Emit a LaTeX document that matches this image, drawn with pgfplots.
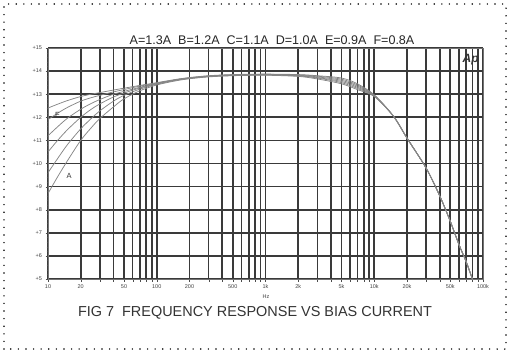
\documentclass[border=0pt]{standalone}
\usepackage{pgfplots}
\pgfplotsset{compat=1.18}
\usepackage{fontspec}
\setmainfont{Liberation Sans}
\definecolor{gridc}{HTML}{3A3A3A}
\definecolor{curvec}{HTML}{868686}
\begin{document}
\begin{tikzpicture}[x=1bp,y=1bp]
\path[use as bounding box] (0,0) rectangle (510,353);
\draw[black, line width=1.6bp, line cap=round, dash pattern=on 0bp off 7.6bp] (4,4) rectangle (506,349);
\begin{axis}[
  at={(48bp,74bp)}, anchor=south west,
  width=435bp, height=231bp, scale only axis,
  xmode=log, xmin=10, xmax=100000, ymin=5, ymax=15,
  log basis x=10,
  xtick={10,20,30,40,50,60,70,80,90,100,200,300,400,500,600,700,800,900,1000,2000,3000,4000,5000,6000,7000,8000,9000,10000,20000,30000,40000,50000,60000,70000,80000,90000,100000},
  xticklabels={10,20,,,50,,,,,100,200,,,500,,,,,1k,2k,,,5k,,,,,10k,20k,,,50k,,,,,100k},
  minor xtick={},
  ytick={5,6,...,15},
  yticklabels={+5,+6,+7,+8,+9,+10,+11,+12,+13,+14,+15},
  minor y tick num=4,
  xmajorgrids, ymajorgrids,
  major grid style={gridc, line width=1.7bp},
  axis line style={black!55, line width=0.8bp},
  tick align=outside,
  major tick length=2.5bp, minor tick length=1.5bp,
  major tick style={black!70},
  minor tick style={black!70},
  xtick pos=bottom, ytick pos=left,
  ticklabel style={font=\fontsize{5.5}{6}\selectfont, text=black!75},
  /pgf/number format/assume math mode=true,
  clip=true,
]
% F = 0.8A
\addplot[curvec, line width=0.75bp, smooth] coordinates {
(10,12.4)(12,12.55)(15,12.72)(20,12.9)(25,13.0)(30,13.07)(40,13.18)(50,13.26)(70,13.38)(100,13.5)
(150,13.64)(200,13.72)(300,13.8)(500,13.85)(1000,13.87)(2000,13.85)(3000,13.8)(5000,13.7)(7000,13.45)
(10000,12.97)(15000,12.05)(20000,11.1)(30000,9.8)(40000,8.6)(50000,7.5)(60000,6.5)(70000,5.75)(80000,5.0)(100000,3.8)};
% E
\addplot[curvec, line width=0.75bp, smooth] coordinates {
(10,11.9)(12,12.15)(15,12.42)(20,12.7)(25,12.85)(30,12.95)(40,13.1)(50,13.2)(70,13.35)(100,13.48)
(150,13.63)(200,13.71)(300,13.79)(500,13.84)(1000,13.86)(2000,13.84)(3000,13.78)(5000,13.65)(7000,13.4)
(10000,12.96)(15000,12.05)(20000,11.1)(30000,9.8)(40000,8.6)(50000,7.5)(60000,6.5)(70000,5.75)(80000,5.0)(100000,3.8)};
% D
\addplot[curvec, line width=0.75bp, smooth] coordinates {
(10,11.2)(12,11.55)(15,11.95)(20,12.35)(25,12.6)(30,12.77)(40,13.0)(50,13.12)(70,13.3)(100,13.46)
(150,13.62)(200,13.7)(300,13.78)(500,13.83)(1000,13.85)(2000,13.82)(3000,13.75)(5000,13.6)(7000,13.35)
(10000,12.95)(15000,12.05)(20000,11.1)(30000,9.8)(40000,8.6)(50000,7.5)(60000,6.5)(70000,5.75)(80000,5.0)(100000,3.8)};
% C
\addplot[curvec, line width=0.75bp, smooth] coordinates {
(10,10.5)(12,10.95)(15,11.45)(20,12.0)(25,12.35)(30,12.58)(40,12.88)(50,13.05)(70,13.27)(100,13.45)
(150,13.61)(200,13.69)(300,13.77)(500,13.82)(1000,13.84)(2000,13.8)(3000,13.72)(5000,13.55)(7000,13.3)
(10000,12.93)(15000,12.05)(20000,11.1)(30000,9.8)(40000,8.6)(50000,7.5)(60000,6.5)(70000,5.75)(80000,5.0)(100000,3.8)};
% B
\addplot[curvec, line width=0.75bp, smooth] coordinates {
(10,9.6)(12,10.15)(15,10.8)(20,11.5)(25,11.95)(30,12.28)(40,12.7)(50,12.95)(70,13.22)(100,13.43)
(150,13.6)(200,13.68)(300,13.76)(500,13.81)(1000,13.83)(2000,13.79)(3000,13.7)(5000,13.5)(7000,13.25)
(10000,12.92)(15000,12.05)(20000,11.1)(30000,9.8)(40000,8.6)(50000,7.5)(60000,6.5)(70000,5.75)(80000,5.0)(100000,3.8)};
% A = 1.3A
\addplot[curvec, line width=0.75bp, smooth] coordinates {
(10,8.7)(12,9.35)(15,10.1)(20,11.0)(25,11.55)(30,11.95)(40,12.45)(50,12.8)(70,13.15)(100,13.4)
(150,13.58)(200,13.67)(300,13.75)(500,13.8)(1000,13.82)(2000,13.77)(3000,13.66)(5000,13.45)(7000,13.2)
(10000,12.9)(15000,12.05)(20000,11.1)(30000,9.8)(40000,8.6)(50000,7.5)(60000,6.5)(70000,5.75)(80000,5.0)(100000,3.8)};
\node[font=\fontsize{7.5}{8}\selectfont, text=black!80] at (axis cs:12.2,12.1) {F};
\node[font=\fontsize{7.5}{8}\selectfont, text=black!80] at (axis cs:15.6,9.45) {A};
\node[font=\bfseries\itshape\fontsize{12}{13}\selectfont, text=black!80, anchor=north east] at (rel axis cs:0.998,0.99) {Ap};
\end{axis}
\node[font=\fontsize{12.6}{14}\selectfont, text=black!85] at (272,313) {A=1.3A\ \ B=1.2A\ \ C=1.1A\ \ D=1.0A\ \ E=0.9A\ \ F=0.8A};
\node[font=\fontsize{5.5}{6}\selectfont, text=black!75] at (266,56) {Hz};
\node[font=\fontsize{14.5}{16}\selectfont, text=black!80] at (255,40) {FIG 7\ \ FREQUENCY RESPONSE VS BIAS CURRENT};
\end{tikzpicture}
\end{document}
